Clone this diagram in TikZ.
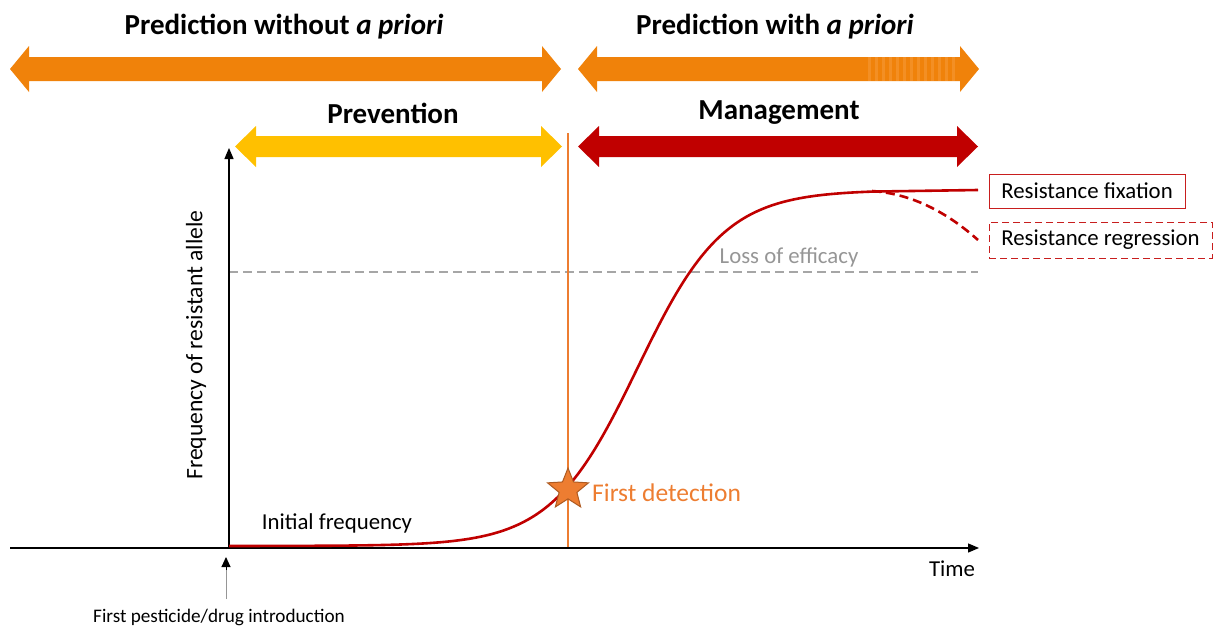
\documentclass[tikz,border=0pt]{standalone}
\usepackage{fontspec}
\setmainfont{Carlito}
\usetikzlibrary{shapes.geometric,arrows.meta}
\definecolor{orA}{RGB}{240,130,10}
\definecolor{orS}{RGB}{243,143,36}
\definecolor{yel}{RGB}{255,192,0}
\definecolor{dred}{RGB}{192,0,0}
\definecolor{boxred}{RGB}{200,30,30}
\definecolor{orL}{RGB}{237,125,49}
\definecolor{starB}{RGB}{174,90,33}
\definecolor{grayL}{RGB}{166,166,166}
\definecolor{grayT}{RGB}{150,150,150}
% #1 x1, #2 x2, #3 yc, #4 head half, #5 shaft half, #6 head length, #7 colour
\newcommand\dblarrow[7]{%
 \fill[#7] (#1,#3) -- (#1+#6,#3-#4) -- (#1+#6,#3-#5) -- (#2-#6,#3-#5) -- (#2-#6,#3-#4) -- (#2,#3)
   -- (#2-#6,#3+#4) -- (#2-#6,#3+#5) -- (#1+#6,#3+#5) -- (#1+#6,#3+#4) -- cycle;}
\tikzset{
  title/.style={font=\fontsize{29}{33}\selectfont\bfseries, inner sep=0pt},
  lab/.style={font=\fontsize{22.8}{26}\selectfont, inner sep=0pt},
  small/.style={font=\fontsize{19.2}{22}\selectfont, inner sep=0pt},
  rbox/.style={draw=boxred, line width=1pt, minimum width=196pt, minimum height=34pt, inner sep=0pt, font=\fontsize{22.8}{26}\selectfont},
  axis/.style={line width=1.3pt, -{Triangle[length=11pt,width=9pt]}},
}
\begin{document}
\begin{tikzpicture}[x=1pt,y=-1pt]
\useasboundingbox (0,0) rectangle (1215,627);
% top arrows
\dblarrow{10}{561}{69}{23}{12}{19}{orA}
\dblarrow{578}{979}{69}{23}{12}{19}{orA}
\foreach \i in {0,...,12} {\fill[orS] (868+7*\i,57) rectangle (870.5+7*\i,81);}
\dblarrow{235}{562}{146.5}{20.5}{10.5}{21}{yel}
\dblarrow{578}{978}{146.5}{20.5}{10.5}{21}{dred}
% titles
\node[title] (t1) at (284,27) {Prediction without \textit{a priori}};
\node[title] (t2) at (775,27) {Prediction with \textit{a priori}};
\node[title] (t3) at (393,113) {Prevention};
\node[title] (t4) at (779,113) {Management};
% loss of efficacy
\coordinate (le1) at (229,272);
\coordinate (le2) at (978,272);
\draw[grayL, line width=1.5pt, dash pattern=on 9pt off 5pt] (le1) -- (le2);
\node[lab, text=grayT] (loss) at (789,257) {Loss of efficacy};
% first detection line
\coordinate (fd1) at (568,133);
\coordinate (fd2) at (568,548);
\draw[orL, line width=1.5pt] (fd1) -- (fd2);
% axes
\coordinate (xo) at (10,548);
\coordinate (xe) at (979,548);
\coordinate (yo) at (229,548);
\coordinate (ye) at (229,148);
\draw[axis] (xo) -- (xe);
\draw[axis] (yo) -- (ye);
% curve
\draw[dred, line width=2.6pt] plot[domain=229:872, samples=160, smooth] (\x, {546 - 356/(1+exp(-(\x-637.5)/43.4))}) -- (978,190);
\draw[dred, line width=2.6pt, dash pattern=on 9pt off 5pt] (872,191) .. controls (915,194) and (950,215) .. (978,240);
% star
\node[star, star points=5, star point ratio=2.3, minimum size=43pt, inner sep=0pt, fill=orL, draw=starB, line width=1pt] (star) at (568,489.5) {};
\node[lab, text=orL, anchor=west, font=\fontsize{25.5}{29}\selectfont] (fdt) at (592,493) {First detection};
% labels
\node[lab] (init) at (337,523) {Initial frequency};
\node[lab] (time) at (952,569) {Time};
\node[lab, rotate=90, font=\fontsize{23.6}{27}\selectfont] (freq) at (196,345) {Frequency of resistant allele};
\node[small] (intro) at (219,617) {First pesticide/drug introduction};
\coordinate (ia) at (226,599);
\coordinate (ib) at (226,557);
\draw[grayT, line width=1pt] (ia) -- (226,566);
\draw[-{Triangle[length=10pt,width=9pt]}, line width=1pt, black] (226,570) -- (ib);
% boxes
\node[rbox] (fix) at (1087,191) {Resistance fixation};
\node[rbox, dash pattern=on 7pt off 4pt, minimum width=223pt, minimum height=36pt] (reg) at (1100.5,240) {Resistance regression};
\end{tikzpicture}
\end{document}
